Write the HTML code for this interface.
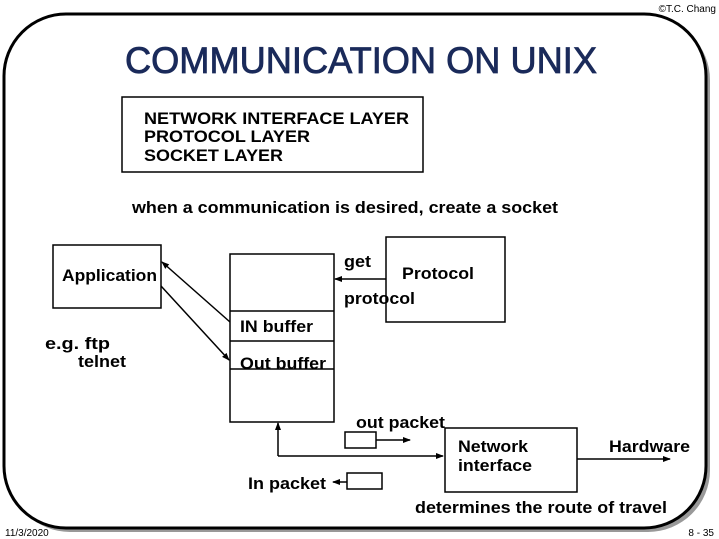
<!DOCTYPE html>
<html><head><meta charset="utf-8"><style>
html,body{margin:0;padding:0;background:#fff;}
svg{display:block;font-family:"Liberation Sans",Arial,sans-serif;}
.b{font-weight:bold;font-size:17px;fill:#000;}
</style></head><body>
<svg width="719" height="539" viewBox="0 0 719 539" xmlns="http://www.w3.org/2000/svg">
<defs>
<marker id="a" markerWidth="8" markerHeight="8" refX="7" refY="4" orient="auto" markerUnits="userSpaceOnUse"><path d="M0,1 L8,4 L0,7 z" fill="#000"/></marker>
</defs>
<rect x="8" y="18" width="702" height="514" rx="62" fill="#999"/>
<rect x="4" y="14" width="702" height="514" rx="62" fill="#fff" stroke="#000" stroke-width="3"/>
<text x="716" y="12" font-size="10" text-anchor="end" fill="#000">©T.C. Chang</text>
<text x="5" y="536" font-size="10" fill="#000">11/3/2020</text>
<text x="714" y="536" font-size="10" text-anchor="end" fill="#000">8 - 35</text>
<text x="125" y="73" font-size="37" fill="#1a2a5a" stroke="#1a2a5a" stroke-width="0.8" textLength="472" lengthAdjust="spacingAndGlyphs">COMMUNICATION ON UNIX</text>
<rect x="122" y="97" width="301" height="75" fill="none" stroke="#000" stroke-width="1.5"/>
<text class="b" x="144" y="124" textLength="265" lengthAdjust="spacingAndGlyphs">NETWORK INTERFACE LAYER</text>
<text class="b" x="144" y="142" textLength="166" lengthAdjust="spacingAndGlyphs">PROTOCOL LAYER</text>
<text class="b" x="144" y="161" textLength="139" lengthAdjust="spacingAndGlyphs">SOCKET LAYER</text>
<text class="b" x="132" y="213" textLength="426" lengthAdjust="spacingAndGlyphs">when a communication is desired, create a socket</text>
<rect x="53" y="245" width="108" height="63" fill="none" stroke="#000" stroke-width="1.5"/>
<text class="b" x="62" y="281" textLength="95" lengthAdjust="spacingAndGlyphs">Application</text>
<text class="b" x="45" y="349" textLength="65" lengthAdjust="spacingAndGlyphs">e.g. ftp</text>
<text class="b" x="78" y="367" textLength="48" lengthAdjust="spacingAndGlyphs">telnet</text>
<rect x="230" y="254" width="104" height="168" fill="none" stroke="#000" stroke-width="1.5"/>
<line x1="230" y1="311" x2="334" y2="311" stroke="#000" stroke-width="1.5"/>
<line x1="230" y1="341" x2="334" y2="341" stroke="#000" stroke-width="1.5"/>
<line x1="230" y1="369" x2="334" y2="369" stroke="#000" stroke-width="1.5"/>
<text class="b" x="240" y="332" textLength="73" lengthAdjust="spacingAndGlyphs">IN buffer</text>
<text class="b" x="240" y="369" textLength="86" lengthAdjust="spacingAndGlyphs">Out buffer</text>
<rect x="386" y="237" width="119" height="85" fill="none" stroke="#000" stroke-width="1.5"/>
<line x1="386" y1="279" x2="335" y2="279" stroke="#000" stroke-width="1.5" marker-end="url(#a)"/>
<text class="b" x="344" y="267" textLength="27" lengthAdjust="spacingAndGlyphs">get</text>
<text class="b" x="402" y="279" textLength="72" lengthAdjust="spacingAndGlyphs">Protocol</text>
<text class="b" x="344" y="304" textLength="71" lengthAdjust="spacingAndGlyphs">protocol</text>
<line x1="230" y1="322" x2="162" y2="262" stroke="#000" stroke-width="1.5" marker-end="url(#a)"/>
<line x1="161" y1="286" x2="229" y2="360" stroke="#000" stroke-width="1.5" marker-end="url(#a)"/>
<polyline points="278,456 443,456" fill="none" stroke="#000" stroke-width="1.5" marker-end="url(#a)"/>
<line x1="278" y1="456" x2="278" y2="423" stroke="#000" stroke-width="1.5" marker-end="url(#a)"/>
<rect x="445" y="428" width="132" height="64" fill="none" stroke="#000" stroke-width="1.5"/>
<text class="b" x="458" y="452" textLength="70" lengthAdjust="spacingAndGlyphs">Network</text>
<text class="b" x="458" y="471" textLength="74" lengthAdjust="spacingAndGlyphs">interface</text>
<rect x="345" y="432" width="31" height="16" fill="none" stroke="#000" stroke-width="1.5"/>
<line x1="376" y1="440" x2="410" y2="440" stroke="#000" stroke-width="1.5" marker-end="url(#a)"/>
<text class="b" x="356" y="428" textLength="89" lengthAdjust="spacingAndGlyphs">out packet</text>
<rect x="347" y="473" width="35" height="16" fill="none" stroke="#000" stroke-width="1.5"/>
<line x1="347" y1="482" x2="333" y2="482" stroke="#000" stroke-width="1.5" marker-end="url(#a)"/>
<text class="b" x="248" y="489" textLength="78" lengthAdjust="spacingAndGlyphs">In packet</text>
<line x1="577" y1="459" x2="670" y2="459" stroke="#000" stroke-width="1.5" marker-end="url(#a)"/>
<text class="b" x="609" y="452" textLength="81" lengthAdjust="spacingAndGlyphs">Hardware</text>
<text class="b" x="415" y="513" textLength="252" lengthAdjust="spacingAndGlyphs">determines the route of travel</text>
</svg>
</body></html>
